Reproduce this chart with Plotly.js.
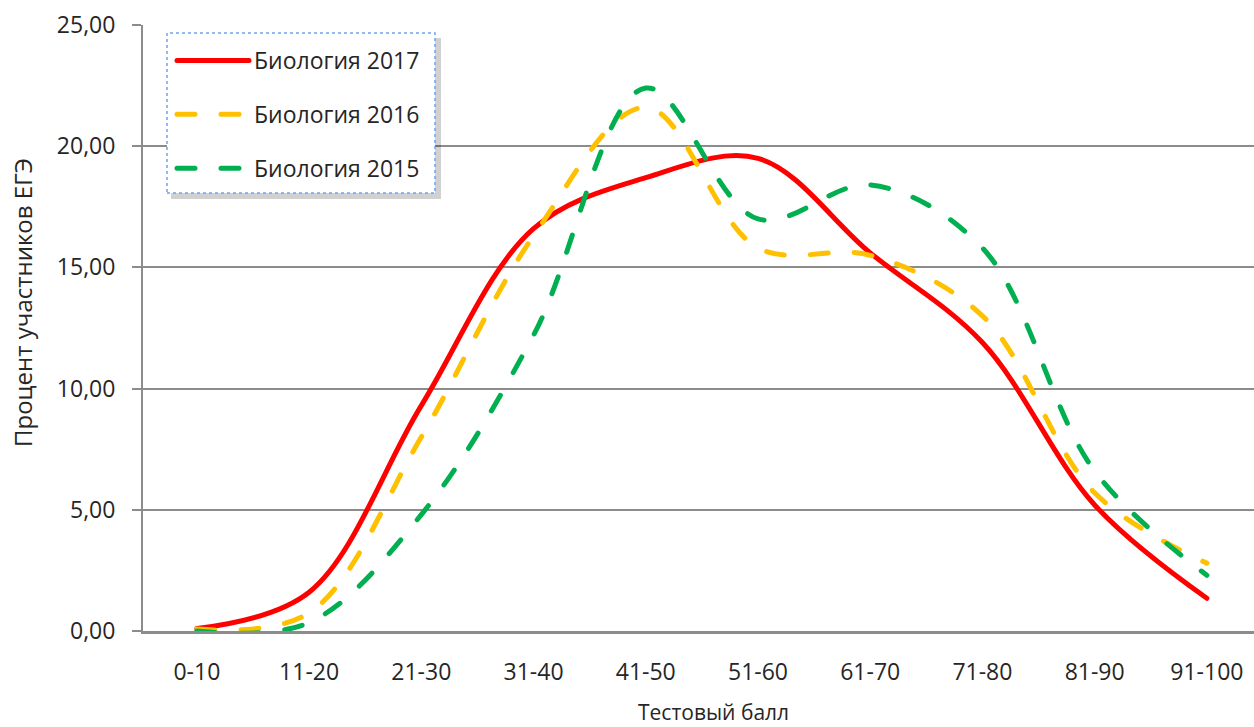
<!DOCTYPE html>
<html>
<head>
<meta charset="utf-8">
<script src="https://cdn.plot.ly/plotly-3.0.1.min.js"></script>
<style>
  html, body { margin: 0; padding: 0; background: #ffffff; }
  #chart { width: 1254px; height: 727px; }
  .js-line { stroke-linecap: round; }
</style>
</head>
<body>
<div id="chart"></div>
<script>
// ---- data ----
const categories = ['0-10', '11-20', '21-30', '31-40', '41-50', '51-60', '61-70', '71-80', '81-90', '91-100'];
const bio2017 = [0.10, 1.60, 9.30, 16.60, 18.70, 19.50, 15.60, 11.90, 5.20, 1.35];
const bio2016 = [0.08, 0.75, 8.00, 16.30, 21.60, 15.80, 15.50, 13.00, 5.70, 2.80];
const bio2015 = [0.00, 0.35, 4.80, 12.20, 22.40, 17.00, 18.40, 15.80, 6.60, 2.30];
const seriesNames = ['Биология 2017', 'Биология 2016', 'Биология 2015'];
const yTicks = [0, 5, 10, 15, 20, 25];

// ---- layout helpers (pixel -> paper) ----
const W = 1254, H = 727, ML = 143, MR = 0, MT = 25, MB = 96;
const PW = W - ML - MR, PH = H - MT - MB;
const px = v => (v - ML) / PW;
const py = v => (H - MB - v) / PH;

const FONT = '"Open Sans", "Noto Sans", sans-serif';
const TXT = '#262626';
const GRID = '#8c8c8c';

const traces = [
  {name: seriesNames[0], y: bio2017, color: '#ff0000', dash: 'solid'},
  {name: seriesNames[1], y: bio2016, color: '#ffc000', dash: '18px,26px'},
  {name: seriesNames[2], y: bio2015, color: '#00b050', dash: '18px,26px'}
].map((s, i) => ({
  type: 'scatter',
  mode: 'lines',
  x: categories,
  y: s.y,
  name: s.name,
  legendgroup: 'g' + i,
  line: {color: s.color, width: 5, dash: s.dash, shape: 'spline', smoothing: 1},
  hoverinfo: 'x+y+name'
}));

const layout = {
  width: W, height: H,
  margin: {l: ML, r: MR, t: MT, b: MB, pad: 0},
  paper_bgcolor: '#ffffff',
  plot_bgcolor: '#ffffff',
  separators: ', ',
  font: {family: FONT, color: TXT, size: 23},
  showlegend: true,
  legend: {
    x: px(172), y: py(39), xanchor: 'left', yanchor: 'top',
    bgcolor: 'rgba(0,0,0,0)', borderwidth: 0,
    font: {family: FONT, size: 23, color: TXT},
    traceorder: 'grouped', tracegroupgap: 21,
    itemwidth: 72
  },
  xaxis: {
    type: 'category',
    range: [-0.48, 9.42],
    showgrid: false, zeroline: false,
    showline: true, linecolor: GRID, linewidth: 3,
    ticks: '', ticklabelstandoff: 18,
    tickfont: {family: FONT, size: 23, color: TXT},
    fixedrange: true
  },
  yaxis: {
    range: [0, 25],
    tickvals: yTicks,
    tickformat: '.2f',
    showgrid: true, gridcolor: GRID, gridwidth: 2,
    zeroline: false,
    showline: true, linecolor: GRID, linewidth: 2,
    ticks: 'outside', ticklen: 9, tickwidth: 2, tickcolor: GRID,
    ticklabelstandoff: 12,
    tickfont: {family: FONT, size: 23, color: TXT},
    fixedrange: true
  },
  shapes: [
    // legend shadow
    {type: 'rect', xref: 'paper', yref: 'paper', layer: 'above',
     x0: px(171), x1: px(441), y0: py(199), y1: py(38),
     fillcolor: 'rgba(0,0,0,0.18)', line: {width: 0}},
    // legend box
    {type: 'rect', xref: 'paper', yref: 'paper', layer: 'above',
     x0: px(167), x1: px(435), y0: py(193), y1: py(33),
     fillcolor: '#ffffff', line: {color: '#6fa3f0', width: 1.5, dash: 'dot'}}
  ],
  annotations: [
    {text: 'Тестовый балл', xref: 'paper', yref: 'paper', x: px(713), y: py(712),
     xanchor: 'center', yanchor: 'middle', showarrow: false,
     font: {family: FONT, size: 21, color: TXT}},
    {text: 'Процент участников ЕГЭ', xref: 'paper', yref: 'paper', x: px(22), y: py(303),
     xanchor: 'center', yanchor: 'middle', textangle: -90, showarrow: false,
     font: {family: FONT, size: 24, color: TXT}}
  ]
};

Plotly.newPlot('chart', traces, layout, {displayModeBar: false, staticPlot: true});
</script>
</body>
</html>
